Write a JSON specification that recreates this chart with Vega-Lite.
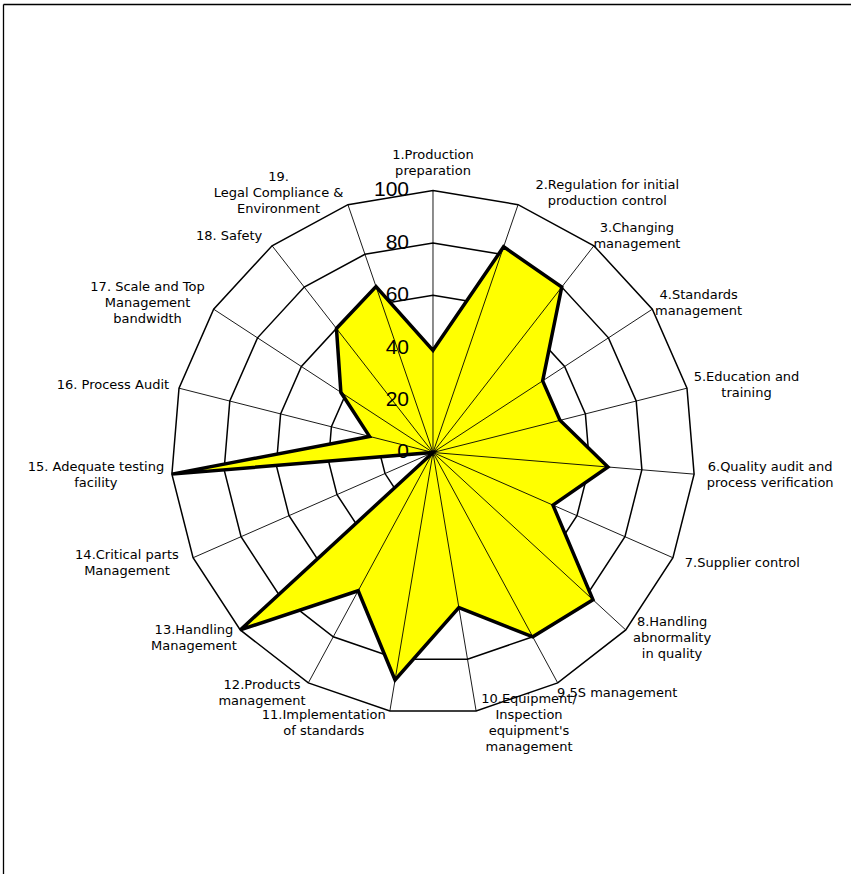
{
  "$schema": "https://vega.github.io/schema/vega-lite/v6.json",
  "width": 848,
  "height": 870,
  "autosize": {"type": "none"},
  "padding": {"left": 3, "top": 4, "right": 0, "bottom": 0},
  "background": "white",
  "config": {
    "view": {"stroke": null},
    "font": "DejaVu Sans",
    "axis": {"labels": false, "ticks": false, "grid": false, "domain": true, "domainColor": "black", "domainWidth": 1.3}
  },
  "datasets": {
    "cats": [
      {"i": 0, "label": "1.Production\npreparation", "value": 39},
      {"i": 1, "label": "2.Regulation for initial\nproduction control", "value": 83},
      {"i": 2, "label": "3.Changing\nmanagement", "value": 80},
      {"i": 3, "label": "4.Standards\nmanagement", "value": 50},
      {"i": 4, "label": "5.Education and\ntraining", "value": 50},
      {"i": 5, "label": "6.Quality audit and\nprocess verification", "value": 67},
      {"i": 6, "label": "7.Supplier control", "value": 50},
      {"i": 7, "label": "8.Handling\nabnormality\nin quality", "value": 83},
      {"i": 8, "label": "9.5S management", "value": 80},
      {"i": 9, "label": "10.Equipment/\nInspection\nequipment's\nmanagement", "value": 60},
      {"i": 10, "label": "11.Implementation\nof standards", "value": 88},
      {"i": 11, "label": "12.Products\nmanagement", "value": 60},
      {"i": 12, "label": "13.Handling\nManagement", "value": 100},
      {"i": 13, "label": "14.Critical parts\nManagement", "value": 0},
      {"i": 14, "label": "15. Adequate testing\nfacility", "value": 100},
      {"i": 15, "label": "16. Process Audit", "value": 25},
      {"i": 16, "label": "17. Scale and Top\nManagement\nbandwidth", "value": 42},
      {"i": 17, "label": "18. Safety", "value": 60},
      {"i": 18, "label": "19.\nLegal Compliance &\nEnvironment", "value": 67}
    ],
    "levels": [
      {"level": 0}, {"level": 20}, {"level": 40}, {"level": 60}, {"level": 80}, {"level": 100}
    ]
  },
  "layer": [
    {
      "data": {"name": "cats"},
      "transform": [
        {"calculate": "datum.i * 2 * PI / 19", "as": "a"},
        {"calculate": "[20, 40, 60, 80, 100]", "as": "lv"},
        {"flatten": ["lv"]},
        {"calculate": "datum.lv * sin(datum.a)", "as": "rx"},
        {"calculate": "datum.lv * cos(datum.a)", "as": "ry"}
      ],
      "mark": {"type": "line", "interpolate": "linear-closed", "stroke": "black", "strokeWidth": 1.5},
      "encoding": {
        "x": {"field": "rx", "type": "quantitative", "title": null, "axis": {"orient": "top"}, "scale": {"domain": [-164.12, 159.54], "nice": false, "zero": false}},
        "y": {"field": "ry", "type": "quantitative", "title": null, "axis": {"orient": "left"}, "scale": {"domain": [-160.88, 171.18], "nice": false, "zero": false}},
        "detail": {"field": "lv", "type": "nominal"},
        "order": {"field": "i", "type": "quantitative"}
      }
    },
    {
      "data": {"name": "cats"},
      "transform": [
        {"calculate": "datum.i * 2 * PI / 19", "as": "a"},
        {"calculate": "datum.value * sin(datum.a)", "as": "px"},
        {"calculate": "datum.value * cos(datum.a)", "as": "py"}
      ],
      "mark": {"type": "line", "interpolate": "linear-closed", "fill": "#FFFF00", "strokeWidth": 0},
      "encoding": {
        "x": {"field": "px", "type": "quantitative", "title": null, "axis": {"orient": "top"}, "scale": {"domain": [-164.12, 159.54], "nice": false, "zero": false}},
        "y": {"field": "py", "type": "quantitative", "title": null, "axis": {"orient": "left"}, "scale": {"domain": [-160.88, 171.18], "nice": false, "zero": false}},
        "order": {"field": "i", "type": "quantitative"}
      }
    },
    {
      "data": {"name": "cats"},
      "transform": [
        {"calculate": "datum.i * 2 * PI / 19", "as": "a"},
        {"calculate": "0", "as": "ox"},
        {"calculate": "100 * sin(datum.a)", "as": "sx"},
        {"calculate": "100 * cos(datum.a)", "as": "sy"}
      ],
      "mark": {"type": "rule", "stroke": "black", "strokeWidth": 0.9},
      "encoding": {
        "x": {"field": "ox", "type": "quantitative", "title": null, "axis": {"orient": "top"}, "scale": {"domain": [-164.12, 159.54], "nice": false, "zero": false}},
        "y": {"field": "ox", "type": "quantitative", "title": null, "axis": {"orient": "left"}, "scale": {"domain": [-160.88, 171.18], "nice": false, "zero": false}},
        "x2": {"field": "sx"},
        "y2": {"field": "sy"}
      }
    },
    {
      "data": {"name": "cats"},
      "transform": [
        {"calculate": "datum.i * 2 * PI / 19", "as": "a"},
        {"calculate": "datum.value * sin(datum.a)", "as": "px"},
        {"calculate": "datum.value * cos(datum.a)", "as": "py"}
      ],
      "mark": {"type": "line", "interpolate": "linear-closed", "stroke": "black", "strokeWidth": 3.5},
      "encoding": {
        "x": {"field": "px", "type": "quantitative", "title": null, "axis": {"orient": "top"}, "scale": {"domain": [-164.12, 159.54], "nice": false, "zero": false}},
        "y": {"field": "py", "type": "quantitative", "title": null, "axis": {"orient": "left"}, "scale": {"domain": [-160.88, 171.18], "nice": false, "zero": false}},
        "order": {"field": "i", "type": "quantitative"}
      }
    },
    {
      "data": {"name": "levels"},
      "transform": [
        {"calculate": "0", "as": "ox"}
      ],
      "mark": {"type": "text", "align": "right", "baseline": "middle", "dx": -24, "fontSize": 21, "font": "Liberation Sans", "color": "black"},
      "encoding": {
        "x": {"field": "ox", "type": "quantitative", "title": null, "axis": {"orient": "top"}, "scale": {"domain": [-164.12, 159.54], "nice": false, "zero": false}},
        "y": {"field": "level", "type": "quantitative", "title": null, "axis": {"orient": "left"}, "scale": {"domain": [-160.88, 171.18], "nice": false, "zero": false}},
        "text": {"field": "level", "type": "quantitative"}
      }
    },
    {
      "data": {"name": "cats"},
      "transform": [
        {"calculate": "datum.i * 2 * PI / 19", "as": "a"},
        {"calculate": "split(datum.label, '\\n')", "as": "L"},
        {"calculate": "length(datum.L)", "as": "n"},
        {"calculate": "max(length(datum.L[0]), length(datum.L[1] || ''), length(datum.L[2] || ''), length(datum.L[3] || ''))", "as": "mc"},
        {"calculate": "datum.mc * 6.6", "as": "w"},
        {"calculate": "datum.i == 0 ? 0 : 100 * sin(datum.a) + (sin(datum.a) > 0 ? 1 : -1) * (10 + datum.w / 2) / 2.62", "as": "lx"},
        {"calculate": "(datum.i == 0 ? 100 + (11 + datum.n * 8) / 2.62 : 100 * cos(datum.a) + 12 * cos(datum.a) / 2.62) + (datum.n - 1) * 8 / 2.62", "as": "ly"}
      ],
      "mark": {"type": "text", "align": "center", "baseline": "middle", "lineBreak": "\n", "lineHeight": 16, "fontSize": 13, "color": "black"},
      "encoding": {
        "x": {"field": "lx", "type": "quantitative", "title": null, "axis": {"orient": "top"}, "scale": {"domain": [-164.12, 159.54], "nice": false, "zero": false}},
        "y": {"field": "ly", "type": "quantitative", "title": null, "axis": {"orient": "left"}, "scale": {"domain": [-160.88, 171.18], "nice": false, "zero": false}},
        "text": {"field": "label", "type": "nominal"}
      }
    }
  ]
}
